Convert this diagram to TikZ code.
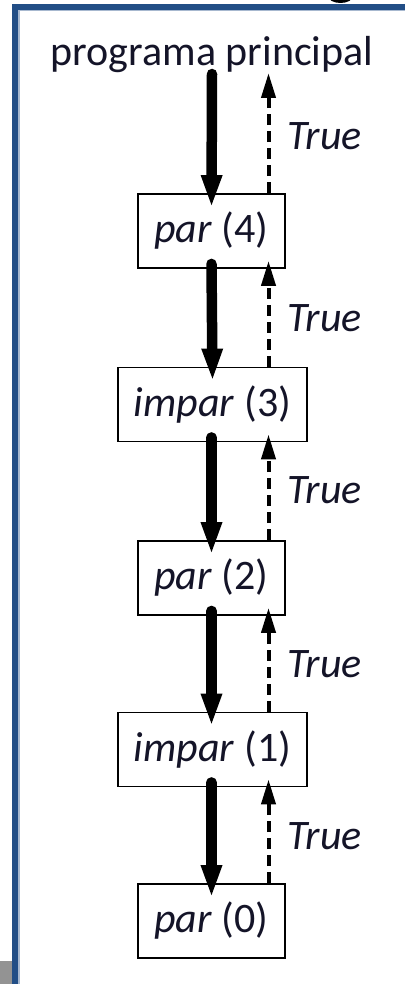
\documentclass[tikz,border=0pt]{standalone}
\usepackage{fontspec}
\setmainfont{Carlito}
\usetikzlibrary{arrows.meta}
\definecolor{framebl}{RGB}{34,78,134}
\definecolor{txt}{RGB}{20,20,40}
\begin{document}
\begin{tikzpicture}[x=1pt,y=-1pt,
  bigtxt/.style={font=\fontsize{42}{48}\selectfont, text=txt},
  callbox/.style={draw, line width=1.8pt, minimum height=74pt, inner sep=0pt, bigtxt},
  callarrow/.style={line width=10.5pt, line cap=round, -{Triangle[length=33pt,width=19pt]}},
  retarrow/.style={line width=4pt, dash pattern=on 11pt off 6pt, -{Triangle[length=25pt,width=14pt]}},
  truelbl/.style={bigtxt, anchor=base west, inner sep=0pt}]
\useasboundingbox (0,0) rectangle (405,984);
\fill[white] (0,0) rectangle (405,984);
% slide frame
\fill[framebl] (12,4) rectangle (405,10);
\fill[framebl] (12,4) rectangle (18,984);
\fill[framebl!40] (18,10) rectangle (19.5,984);
\fill[framebl!40] (18,10) rectangle (405,11.5);
\fill[gray!85] (0,961) rectangle (12,984);
\begin{scope}
\clip (0,0) rectangle (405,984);
\fill[black] (340.5,-4) ellipse (12.5 and 7);
\end{scope}
% title
\node[bigtxt, anchor=base, inner sep=0pt] (main) at (212,66) {programa principal};
\coordinate (mstart) at (212,74);
\coordinate (mret) at (268.5,73);
% boxes
\node[callbox, minimum width=147pt] (p4) at (211.5,231) {\textit{par} (4)};
\node[callbox, minimum width=189pt] (i3) at (212.5,404.5) {\textit{impar} (3)};
\node[callbox, minimum width=147pt] (p2) at (211.5,578) {\textit{par} (2)};
\node[callbox, minimum width=189pt] (i1) at (212.5,749.5) {\textit{impar} (1)};
\node[callbox, minimum width=147pt] (p0) at (211.5,921) {\textit{par} (0)};
% call arrows
\draw[callarrow] (mstart) -- ([yshift=-15pt]p4.north);
\draw[callarrow] ([yshift=5pt]p4.south) -- ([yshift=-15pt]i3.north);
\draw[callarrow] ([yshift=5pt,xshift=-1pt]i3.south) -- ([yshift=-15pt]p2.north);
\draw[callarrow] ([yshift=5pt]p2.south) -- ([yshift=-15pt,xshift=-1pt]i1.north);
\draw[callarrow] ([yshift=5pt,xshift=-1pt]i1.south) -- ([yshift=-15pt]p0.north);
% return arrows
\draw[retarrow] ([xshift=57pt]p4.north) -- (mret);
\draw[retarrow] ([xshift=56pt]i3.north) -- ([xshift=57pt,yshift=8pt]p4.south);
\draw[retarrow] ([xshift=57pt]p2.north) -- ([xshift=56pt,yshift=8pt]i3.south);
\draw[retarrow] ([xshift=56pt]i1.north) -- ([xshift=57pt,yshift=8pt]p2.south);
\draw[retarrow] ([xshift=57pt]p0.north) -- ([xshift=56pt,yshift=8pt]i1.south);
% labels
\node[truelbl] (t0) at (287,150) {\textit{True}};
\node[truelbl] (t1) at (287,331) {\textit{True}};
\node[truelbl] (t2) at (287,503) {\textit{True}};
\node[truelbl] (t3) at (287,677) {\textit{True}};
\node[truelbl] (t4) at (287,849) {\textit{True}};
\end{tikzpicture}
\end{document}
